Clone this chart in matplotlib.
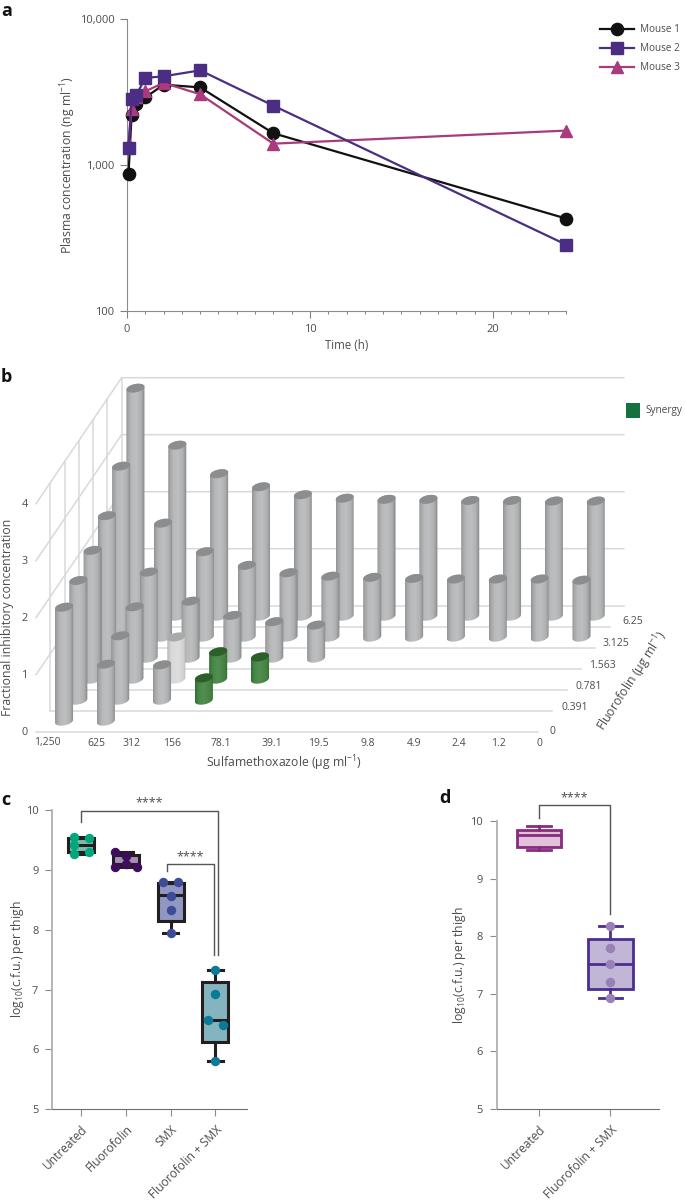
import numpy as np
import matplotlib
matplotlib.use('Agg')
import matplotlib.pyplot as plt
from matplotlib.colors import LinearSegmentedColormap
from matplotlib.patches import Polygon, Rectangle
from matplotlib.ticker import FixedLocator, FuncFormatter, MultipleLocator, NullLocator

plt.rcParams['font.family'] = ['Open Sans', 'DejaVu Sans']
plt.rcParams['font.size'] = 8
plt.rcParams['mathtext.default'] = 'regular'
plt.rcParams['text.color'] = '#4d4d4f'
plt.rcParams['axes.labelcolor'] = '#4d4d4f'
plt.rcParams['xtick.labelcolor'] = '#4d4d4f'
plt.rcParams['ytick.labelcolor'] = '#4d4d4f'

W, H = 685, 1201

# panel a
times = [0.083, 0.25, 0.5, 1, 2, 4, 8, 24]
mouse_1 = [870, 2200, 2600, 2900, 3550, 3400, 1650, 430]
mouse_2 = [1300, 2850, 3000, 3950, 4050, 4450, 2550, 285]
mouse_3 = [1400, 2400, 2900, 3200, 3650, 3050, 1400, 1720]

# panel b, FIC values per fluorofolin row, front to back
sulfa_labels = ['1,250', '625', '312', '156', '78.1', '39.1', '19.5', '9.8', '4.9', '2.4', '1.2', '0']
fluoro_labels = ['0', '0.391', '0.781', '1.563', '3.125', '6.25']
fic_row_0 = [2.0, 1.0]
fic_row_1 = [2.1, 1.13, 0.62, 0.39]
fic_row_2 = [2.26, 1.27, 0.74, 0.48, 0.39]
fic_row_3 = [2.5, 1.51, 1.0, 0.75, 0.64, 0.58]
fic_row_4 = [3.0, 2.0, 1.5, 1.26, 1.13, 1.07, 1.05, 1.03, 1.02, 1.02, 1.02, 1.0]
fic_row_5 = [4.0, 3.0, 2.5, 2.27, 2.13, 2.07, 2.05, 2.05, 2.03, 2.03, 2.02, 2.02]
synergy_cells = [(1, 3), (2, 3), (2, 4)]
pale_cells = [(2, 2)]

# panel c
c_labels = ['Untreated', 'Fluorofolin', 'SMX', 'Fluorofolin + SMX']
c_q1 = [9.30, 9.07, 8.15, 6.12]
c_med = [9.42, 9.10, 8.58, 6.49]
c_q3 = [9.53, 9.26, 8.78, 7.12]
c_low = [9.27, 9.05, 7.94, 5.80]
c_high = [9.56, 9.31, 8.80, 7.33]
c_points = [[9.56, 9.42, 9.27, 9.53, 9.30],
            [9.30, 9.05, 9.24, 9.10, 9.05],
            [8.80, 8.80, 8.57, 8.33, 7.94],
            [7.33, 6.93, 6.49, 6.41, 5.80]]
c_jitter = [[-0.16, -0.16, -0.16, 0.18, 0.18],
            [-0.25, -0.25, 0, 0, 0.25],
            [-0.17, 0.17, 0, 0, 0],
            [0, 0, -0.16, 0.16, 0]]
c_edge = ['#231f20', '#231f20', '#231f20', '#231f20']
c_fill = ['#7dbbaa', '#a78fb9', '#8f97c2', '#85b4c1']
c_dot = ['#00a67e', '#3f0d5c', '#3d4c96', '#0b7a96']

# panel d
d_labels = ['Untreated', 'Fluorofolin + SMX']
d_q1 = [9.54, 7.09]
d_med = [9.75, 7.51]
d_q3 = [9.84, 7.95]
d_low = [9.49, 6.93]
d_high = [9.92, 8.17]
d_points = [[], [8.17, 7.80, 7.52, 7.20, 6.93]]
d_edge = ['#8a2a80', '#4b2e91']
d_fill = ['#e2c2da', '#c1b6d6']
d_dot = ['#8a2a80', '#9a80b6']

fig = plt.figure(figsize=(W / 100, H / 100), dpi=100)


def axes_px(left, top, right, bottom):
    return fig.add_axes([left / W, 1 - bottom / H, (right - left) / W, (bottom - top) / H])


def label_px(s, x, y):
    fig.text(x / W, 1 - y / H, s, fontsize=13, fontweight='bold', color='#111111', ha='left', va='center')


label_px('a', 1, 11)
label_px('b', 1, 377)
label_px('c', 1, 800)
label_px('d', 439, 798)

# ---- a
ax_a = axes_px(127, 19, 566, 311)
ax_a.set_yscale('log')
ax_a.set_ylim(100, 10000)
ax_a.set_xlim(0, 24)
l1, = ax_a.plot(times, mouse_1, color='#111111', marker='o', ms=8.8, lw=1.6, zorder=3, clip_on=False)
l3, = ax_a.plot(times, mouse_3, color='#a83a7d', marker='^', ms=8.8, lw=1.6, zorder=4, clip_on=False)
l2, = ax_a.plot(times, mouse_2, color='#4b2e83', marker='s', ms=8.2, lw=1.6, zorder=5, clip_on=False)
ax_a.set_xlabel('Time (h)', labelpad=3.5, fontsize=8.3)
ax_a.set_ylabel('Plasma concentration (ng ml$^{-1}$)', labelpad=1.5, fontsize=8.8)
ax_a.xaxis.set_major_locator(MultipleLocator(10))
ax_a.xaxis.set_minor_locator(MultipleLocator(1))
ax_a.yaxis.set_major_locator(FixedLocator([100, 1000, 10000]))
ax_a.yaxis.set_minor_locator(NullLocator())
ax_a.yaxis.set_major_formatter(FuncFormatter(lambda v, p: f'{int(v):,}'))
ax_a.tick_params(color='#808080', width=0.8, length=5, pad=4)
ax_a.tick_params(which='minor', color='#808080', width=0.7, length=2)
for s in ['top', 'right']:
    ax_a.spines[s].set_visible(False)
for s in ['left', 'bottom']:
    ax_a.spines[s].set_color('#8c8c8c')
ax_a.legend([l1, l2, l3], ['Mouse 1', 'Mouse 2', 'Mouse 3'], loc='upper left', frameon=False,
            bbox_to_anchor=(470 / 439, 0.992), fontsize=7.2, handlelength=3.4, labelspacing=0.8,
            handletextpad=0.6, borderpad=0.3, borderaxespad=0)

# ---- b
ax_b = fig.add_axes([0, 0, 1, 1], zorder=-1)
ax_b.set_xlim(0, W)
ax_b.set_ylim(H, 0)
ax_b.axis('off')
ax_b.patch.set_alpha(0)


def project(col, row, z):
    return 36 + 41.85 * col + 14.27 * row, 731.7 - 21 * row - 57 * z


grid_col = '#d9d9d9'
for r in range(7):
    p = [project(0, r, 0), project(12, r, 0)]
    ax_b.plot(*zip(*p), color=grid_col, lw=1.1, zorder=1)
for z in range(1, 5):
    p = [project(0, 0, z), project(0, 6, z), project(12, 6, z)]
    ax_b.plot(*zip(*p), color=grid_col, lw=1.1, zorder=1)
for r in range(1, 7):
    p = [project(0, r, 0), project(0, r, 4)]
    ax_b.plot(*zip(*p), color=grid_col, lw=1.1, zorder=1)

grey_map = LinearSegmentedColormap.from_list('g', [(0, '#8f9193'), (0.1, '#a4a6a8'), (0.3, '#b8babc'),
                                                   (0.55, '#bcbebf'), (0.8, '#aeb0b2'), (0.93, '#929496'), (1, '#7e8082')])
green_map = LinearSegmentedColormap.from_list('gr', [(0, '#336f34'), (0.2, '#4a884a'), (0.5, '#528f4f'),
                                                     (0.85, '#437f41'), (1, '#2a6a2c')])
pale_map = LinearSegmentedColormap.from_list('p', [(0, '#b5b5b5'), (0.2, '#d8d8d8'), (0.6, '#dedede'),
                                                   (0.9, '#cfcfcf'), (1, '#b0b0b0')])
ramp = np.linspace(0, 1, 64).reshape(1, -1)
t0 = np.arctan2(3.0, 8.5)


def ring(cx, cy, a, b):
    t = np.linspace(a, b, 30)
    return np.column_stack([cx + 8.5 * np.cos(t) + 3.0 * np.sin(t), cy - 4.5 * np.sin(t)])


def cylinder(row, col, value, order):
    bx, by = project(col + 0.5, row + 0.5, 0)
    tx, ty = project(col + 0.5, row + 0.5, value)
    if (row, col) in synergy_cells:
        cmap, cap = green_map, '#2d5f2b'
    elif (row, col) in pale_cells:
        cmap, cap = pale_map, '#a9a9a9'
    else:
        cmap, cap = grey_map, '#8b8d8f'
    outline = np.vstack([ring(bx, by, t0 + np.pi, t0 + 2 * np.pi), ring(tx, ty, t0, t0 + np.pi)])
    body = Polygon(outline, closed=True, facecolor='none', edgecolor='none', zorder=order)
    ax_b.add_patch(body)
    im = ax_b.imshow(ramp, cmap=cmap, extent=(bx - 9.1, bx + 9.1, by + 6, ty - 6), aspect='auto',
                     interpolation='bilinear', zorder=order)
    im.set_clip_path(body)
    ax_b.add_patch(Polygon(ring(tx, ty, 0, 2 * np.pi), closed=True, facecolor=cap, edgecolor='none', zorder=order + 0.5))


rows = [fic_row_0, fic_row_1, fic_row_2, fic_row_3, fic_row_4, fic_row_5]
order = 2
for r in range(5, -1, -1):
    for c, v in enumerate(rows[r]):
        cylinder(r, c, v, order)
        order += 1
ax_b.set_xlim(0, W)
ax_b.set_ylim(H, 0)

for lab, x in zip(sulfa_labels, [47.7, 96.7, 132, 172, 221, 272, 318, 368, 414, 459, 498, 539]):
    ax_b.text(x, 743, lab, fontsize=7.5, ha='center', va='center')
for lab, x, y in zip(fluoro_labels, [552, 575, 589, 602, 616, 632.7], [732, 708, 686.7, 665, 643.7, 622]):
    ax_b.text(x, y, lab, fontsize=7.5, ha='center', va='center')
for z in range(5):
    ax_b.text(25, project(0, 0, z)[1] + 1, str(z), fontsize=7.8, ha='center', va='center')
ax_b.text(284, 763, 'Sulfamethoxazole (µg ml$^{-1}$)', ha='center', va='center', fontsize=8.8)
ax_b.text(8, 617, 'Fractional inhibitory concentration', rotation=90, ha='center', va='center', fontsize=8.8)
ax_b.text(632, 681, 'Fluorofolin (µg ml$^{-1}$)', rotation=57, ha='center', va='center', rotation_mode='anchor', fontsize=8.8)
ax_b.add_patch(Rectangle((626, 403), 14.5, 15, facecolor='#17703f', edgecolor='none'))
ax_b.text(645, 410.5, 'Synergy', fontsize=7.2, ha='left', va='center')


def box_axes(ax, labels, ylabel, pad):
    ax.set_ylim(5, 10)
    ax.set_xticks(range(len(labels)))
    ax.set_xticklabels(labels, rotation=45, ha='right', rotation_mode='anchor', fontsize=8.6)
    ax.set_yticks([5, 6, 7, 8, 9, 10])
    ax.set_ylabel(ylabel, labelpad=pad, fontsize=8.8)
    ax.tick_params(color='#8c8c8c', width=0.8, length=5, pad=5)
    for s in ['top', 'right']:
        ax.spines[s].set_visible(False)
    ax.spines['left'].set_color('#b5b5b5')
    ax.spines['left'].set_linewidth(1.4)
    ax.spines['bottom'].set_color('#6d6e70')
    ax.spines['bottom'].set_linewidth(0.8)


def draw_box(ax, i, q1, med, q3, low, high, edge, fill, width, cap, lw):
    stats = [{'med': med, 'q1': q1, 'q3': q3, 'whislo': low, 'whishi': high, 'fliers': []}]
    line = {'color': edge, 'linewidth': lw}
    ax.bxp(stats, positions=[i], widths=width, patch_artist=True, showfliers=False, capwidths=cap,
           boxprops={'facecolor': fill, 'edgecolor': edge, 'linewidth': lw},
           medianprops=line, whiskerprops=line, capprops=line, manage_ticks=False)


def bracket(ax, xs, ys, star_x, star_y):
    ax.plot(xs, ys, color='#555555', lw=1.0, clip_on=False, zorder=6)
    ax.text(star_x, star_y, '****', ha='center', va='center', fontsize=9, clip_on=False)


# ---- c
ax_c = axes_px(52.3, 810.3, 246.7, 1109)
ax_c.set_xlim(-0.64, 3.7)
box_axes(ax_c, c_labels, 'log$_{10}$(c.f.u.) per thigh', 0)
for i in range(4):
    draw_box(ax_c, i, c_q1[i], c_med[i], c_q3[i], c_low[i], c_high[i], c_edge[i], c_fill[i], 0.58, 0.34, 2.2)
    ax_c.scatter([i + j for j in c_jitter[i]], c_points[i], s=46, color=c_dot[i], zorder=5, clip_on=False, linewidths=0)
bracket(ax_c, [0, 0, 3.07, 3.07], [9.8, 9.98, 9.98, 7.58], 1.52, 10.13)
bracket(ax_c, [1.91, 1.91, 2.97, 2.97], [8.98, 9.1, 9.1, 7.58], 2.43, 9.23)

# ---- d
ax_d = axes_px(496.7, 821, 659.3, 1109)
ax_d.set_xlim(-0.593, 1.687)
box_axes(ax_d, d_labels, 'log$_{10}$(c.f.u.) per thigh', 1.5)
for i in range(2):
    draw_box(ax_d, i, d_q1[i], d_med[i], d_q3[i], d_low[i], d_high[i], d_edge[i], d_fill[i], 0.63, 0.33, 2.0)
    if d_points[i]:
        ax_d.scatter([i] * len(d_points[i]), d_points[i], s=46, color=d_dot[i], zorder=5, linewidths=0)
bracket(ax_d, [0, 0, 1, 1], [10.05, 10.27, 10.27, 8.38], 0.49, 10.41)

fig.savefig('out.png', dpi=100)
